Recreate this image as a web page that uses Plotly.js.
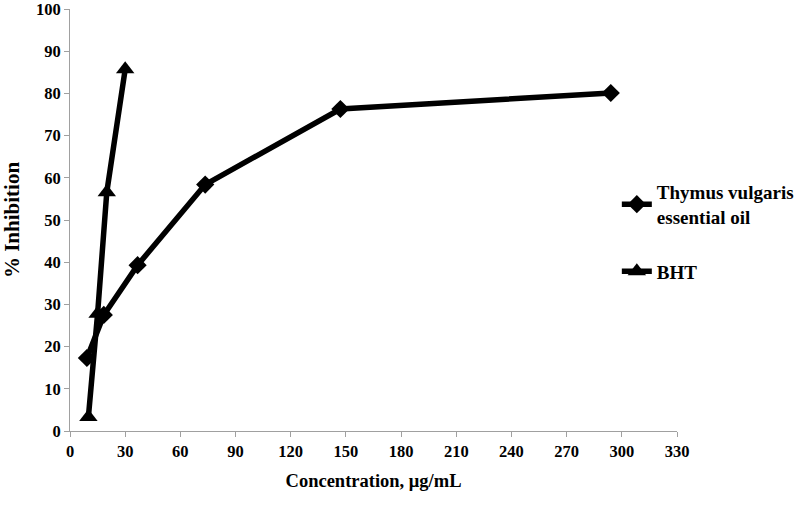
<!DOCTYPE html>
<html>
<head>
<meta charset="utf-8">
<script src="https://cdn.plot.ly/plotly-3.0.1.min.js"></script>
<style>html,body{margin:0;padding:0;background:#fff;}#chart{width:799px;height:506px;}</style>
</head>
<body>
<div id="chart"></div>
<script>
const thymusConc = [9.19, 18.38, 36.75, 73.5, 147, 294];
const thymusInhib = [17.3, 27.5, 39.3, 58.4, 76.3, 80.1];
const bhtConc = [10, 15, 20, 30];
const bhtInhib = [3.3, 27.8, 56.6, 85.7];
const xTicks = [0, 30, 60, 90, 120, 150, 180, 210, 240, 270, 300, 330];
const yTicks = [0, 10, 20, 30, 40, 50, 60, 70, 80, 90, 100];

const fontFam = '"Liberation Serif", "Times New Roman", serif';
const data = [
  {x: thymusConc, y: thymusInhib, mode: 'lines+markers', name: '<b>Thymus vulgaris</b><br><b>essential oil</b>',
   legendgroup: 'a',
   line: {color: '#000', width: 5.5}, marker: {symbol: 'diamond', size: 14, color: '#000'}},
  {x: bhtConc, y: bhtInhib, mode: 'lines+markers', name: '<b>BHT</b>',
   legendgroup: 'b',
   line: {color: '#000', width: 5.5}, marker: {symbol: 'triangle-up', size: 16, color: '#000'}}
];
const axisCommon = {showgrid: false, zeroline: false, showline: true, linecolor: '#a0a0a0', linewidth: 1,
  ticks: 'outside', ticklen: 5, tickcolor: '#a0a0a0', ticklabeloverflow: 'allow',
  tickfont: {family: fontFam, size: 16.5, color: '#000'}};
const layout = {
  width: 799, height: 506,
  margin: {l: 70, r: 122, t: 9, b: 75, autoexpand: false},
  paper_bgcolor: '#fff', plot_bgcolor: '#fff',
  showlegend: true,
  legend: {xref: 'container', yref: 'container', x: 0.772, y: 0.5415, xanchor: 'left', yanchor: 'middle',
    font: {family: fontFam, size: 19, color: '#000'},
    bgcolor: 'rgba(0,0,0,0)', traceorder: 'grouped', tracegroupgap: 27, itemwidth: 30},
  xaxis: Object.assign({}, axisCommon, {range: [0, 330], tickvals: xTicks, ticktext: xTicks.map(v => '<b>' + v + '</b>'),
    title: {text: '<b>Concentration, μg/mL</b>', font: {family: fontFam, size: 18.5, color: '#000'}, standoff: 14}}),
  yaxis: Object.assign({}, axisCommon, {range: [0, 100], tickvals: yTicks, ticktext: yTicks.map(v => '<b>' + v + '</b>'),
    title: {text: '<b>% Inhibition</b>', font: {family: fontFam, size: 21, color: '#000'}, standoff: 10}})
};
Plotly.newPlot('chart', data, layout, {displayModeBar: false});
</script>
</body>
</html>
